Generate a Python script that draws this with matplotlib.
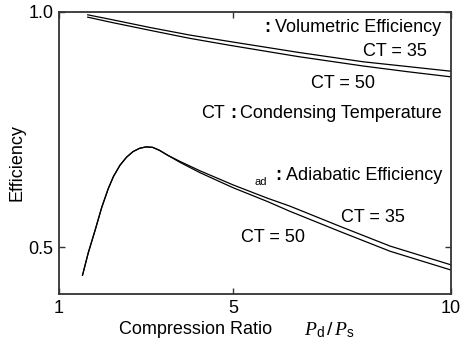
import matplotlib
matplotlib.use("Agg")
import matplotlib.pyplot as plt

plt.rcParams['font.family'] = ['Liberation Sans', 'DejaVu Sans']
plt.rcParams['mathtext.fontset'] = 'custom'
plt.rcParams['mathtext.it'] = 'Liberation Serif:italic'
plt.rcParams['mathtext.rm'] = 'Liberation Sans'

# Volumetric efficiency
vol_x = [1.66, 2.2, 3.09, 4.0, 4.93, 6.5, 7.99, 9.0, 10.0]
vol_ct35 = [0.994, 0.984, 0.967, 0.951, 0.937, 0.914, 0.894, 0.884, 0.874]
vol_ct50 = [0.989, 0.978, 0.961, 0.944, 0.929, 0.905, 0.885, 0.873, 0.862]

# Adiabatic efficiency
ad_x = [1.54, 1.67, 1.83, 1.98, 2.13, 2.25, 2.4, 2.55, 2.7, 2.85, 3.0, 3.15, 3.3, 3.5,
        3.78, 4.24, 5.0, 5.78, 6.3, 7.45, 8.6, 10.0]
ad_ct35 = [0.440, 0.487, 0.536, 0.584, 0.624, 0.650, 0.674, 0.691, 0.703, 0.710, 0.713,
           0.712, 0.706, 0.695, 0.682, 0.662, 0.632, 0.604, 0.587, 0.544, 0.502, 0.462]
ad_ct50 = [0.440, 0.487, 0.536, 0.584, 0.624, 0.650, 0.674, 0.691, 0.703, 0.710, 0.713,
           0.712, 0.706, 0.695, 0.680, 0.658, 0.626, 0.597, 0.576, 0.533, 0.491, 0.451]

x_ticks = [1, 5, 10]
x_ticklabels = ["1", "5", "10"]
y_ticks = [0.5, 1.0]
y_ticklabels = ["0.5", "1.0"]

FS = 13
fig = plt.figure(figsize=(4.61, 3.43), dpi=100)
ax = fig.add_axes([59/461, 1-294/343, 392/461, 282/343])

lw = 0.9
ax.plot(vol_x, vol_ct35, color='black', lw=lw)
ax.plot(vol_x, vol_ct50, color='black', lw=lw)
ax.plot(ad_x, ad_ct35, color='black', lw=lw)
ax.plot(ad_x, ad_ct50, color='black', lw=lw)

ax.set_xlim(1, 10)
ax.set_ylim(0.4, 1.0)
ax.set_xticks(x_ticks)
ax.set_xticklabels(x_ticklabels)
ax.set_yticks(y_ticks)
ax.set_yticklabels(y_ticklabels)
ax.tick_params(direction='in', length=4, width=1, top=True, right=True,
               labelsize=FS, pad=4, color='#333333')
for s in ax.spines.values():
    s.set_color('#333333')
    s.set_linewidth(1.3)

def ax_xy(px, py):
    return ((px - 59) / 392, (294 - py) / 282)

# Text annotations
t = ax.text(*ax_xy(441, 27), "Volumetric Efficiency", transform=ax.transAxes,
            ha='right', va='center', fontsize=FS)
ax.annotate(":", xy=(0, 0.5), xycoords=t, xytext=(-3, 0), textcoords='offset points',
            ha='right', va='center', fontsize=FS, fontweight='bold')

ax.text(*ax_xy(427, 52), "CT = 35", transform=ax.transAxes, ha='right', va='center', fontsize=FS)
ax.text(*ax_xy(375, 83), "CT = 50", transform=ax.transAxes, ha='right', va='center', fontsize=FS)

t2 = ax.text(*ax_xy(442, 113), "Condensing Temperature", transform=ax.transAxes,
             ha='right', va='center', fontsize=FS)
c2 = ax.annotate(":", xy=(0, 0.5), xycoords=t2, xytext=(-3, 0), textcoords='offset points',
                 ha='right', va='center', fontsize=FS, fontweight='bold')
ax.annotate("CT", xy=(0, 0.5), xycoords=c2, xytext=(-4, 0), textcoords='offset points',
            ha='right', va='center', fontsize=FS)

t3 = ax.text(*ax_xy(442, 175), "Adiabatic Efficiency", transform=ax.transAxes,
             ha='right', va='center', fontsize=FS)
c3 = ax.annotate(":", xy=(0, 0.5), xycoords=t3, xytext=(-3, 0), textcoords='offset points',
                 ha='right', va='center', fontsize=FS, fontweight='bold')
ax.annotate("ad", xy=(0, 0.5), xycoords=c3, xytext=(-6, -5), textcoords='offset points',
            ha='right', va='center', fontsize=8)

ax.text(*ax_xy(405, 217), "CT = 35", transform=ax.transAxes, ha='right', va='center', fontsize=FS)
ax.text(*ax_xy(305, 238), "CT = 50", transform=ax.transAxes, ha='right', va='center', fontsize=FS)

# Axis labels
ax.text(*ax_xy(196, 330), "Compression Ratio", transform=ax.transAxes,
        ha='center', va='center', fontsize=FS)
ax.text(*ax_xy(329, 330), r"$P_{\mathrm{d}}\,/\,P_{\mathrm{s}}$", transform=ax.transAxes,
        ha='center', va='center', fontsize=FS + 1)
ax.text(*ax_xy(17, 163), "Efficiency", transform=ax.transAxes, rotation=90,
        ha='center', va='center', fontsize=FS)

fig.savefig("out.png", dpi=100)
